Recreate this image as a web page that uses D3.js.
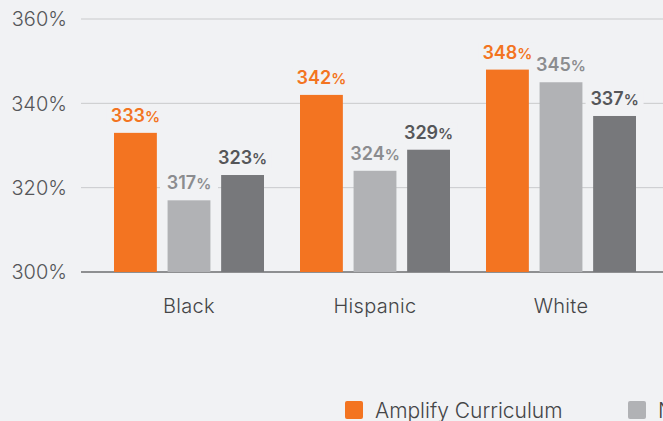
<!DOCTYPE html>
<html>
<head>
<meta charset="utf-8">
<script src="https://cdn.jsdelivr.net/npm/d3@7"></script>
<style>
    html, body { margin: 0; padding: 0; background: #f1f2f4; overflow: hidden; }
    svg { display: block; }
</style>
</head>
<body>
<svg id="chart"></svg>
<script>
'use strict';

const categories = ['Black', 'Hispanic', 'White'];
const seriesNames = ['Amplify Curriculum', 'National Comparison', 'State Comparison'];
const amplifyValues = [333, 342, 348];
const secondValues = [317, 324, 345];
const thirdValues = [323, 329, 337];
const yTicks = [300, 320, 340, 360];

(function () {
    const d3 = window.d3;
    const width = 663;
    const height = 421;
    const bg = '#f1f2f4';
    const colors = ['#f37421', '#b1b2b5', '#77787b'];
    const labelColors = ['#f37421', '#8b8c8f', '#555659'];
    const font = 'Inter, "Open Sans", sans-serif';

    const series = [amplifyValues, secondValues, thirdValues];
    const data = categories.map((c, i) => ({
        cat: c,
        vals: series.map((s, j) => ({ key: seriesNames[j], idx: j, val: s[i] }))
    }));

    const svg = d3.select('#chart')
        .attr('width', width)
        .attr('height', height);

    const x0 = d3.scaleBand()
        .domain(categories)
        .range([96, 654])
        .padding(0);

    const x1 = d3.scaleBand()
        .domain(seriesNames)
        .range([18, 168])
        .paddingInner(0.2)
        .paddingOuter(0);

    const y = d3.scaleLinear()
        .domain([300, 360])
        .range([272, 19]);

    // grid + tick labels
    const grid = svg.append('g');
    grid.selectAll('line')
        .data(yTicks)
        .enter().append('line')
        .attr('x1', 81)
        .attr('x2', width)
        .attr('y1', d => y(d))
        .attr('y2', d => y(d))
        .attr('stroke', d => d === 300 ? '#6d6e71' : '#c9cacc')
        .attr('stroke-width', d => d === 300 ? 1.5 : 1);
    grid.selectAll('text')
        .data(yTicks)
        .enter().append('text')
        .attr('x', 67)
        .attr('y', d => y(d))
        .attr('dy', '0.36em')
        .attr('text-anchor', 'end')
        .attr('font-family', font)
        .attr('font-size', '20px')
        .attr('font-weight', 300)
        .attr('fill', '#555659')
        .text(d => d + '%');

    const groups = svg.selectAll('.group')
        .data(data)
        .enter().append('g')
        .attr('class', 'group')
        .attr('transform', d => 'translate(' + x0(d.cat) + ',0)');

    groups.selectAll('rect.bar')
        .data(d => d.vals)
        .enter().append('rect')
        .attr('class', 'bar')
        .attr('x', d => x1(d.key))
        .attr('width', x1.bandwidth())
        .attr('y', d => y(d.val))
        .attr('height', d => y(300) - y(d.val))
        .attr('fill', d => colors[d.idx]);

    // value labels with background to break the grid
    const labels = groups.selectAll('g.lab')
        .data(d => d.vals)
        .enter().append('g')
        .attr('class', 'lab')
        .attr('transform', d => 'translate(' + (x1(d.key) + x1.bandwidth() / 2) + ',' + (y(d.val) - 11) + ')');
    labels.append('rect')
        .attr('x', -29)
        .attr('y', -16)
        .attr('width', 58)
        .attr('height', 20)
        .attr('fill', bg);
    const t = labels.append('text')
        .attr('text-anchor', 'middle')
        .attr('font-family', font)
        .attr('font-weight', 600)
        .attr('fill', d => labelColors[d.idx]);
    t.append('tspan')
        .attr('font-size', '18px')
        .text(d => d.val);
    t.append('tspan')
        .attr('font-size', '15px')
        .text('%');

    // category axis labels
    svg.append('g').selectAll('text')
        .data(categories)
        .enter().append('text')
        .attr('x', d => x0(d) + x0.bandwidth() / 2)
        .attr('y', 313)
        .attr('text-anchor', 'middle')
        .attr('font-family', font)
        .attr('font-size', '20px')
        .attr('font-weight', 300)
        .attr('letter-spacing', '0.3px')
        .attr('fill', '#444547')
        .text(d => d);

    // legend
    const legendX = [345, 628];
    const legend = svg.append('g').selectAll('g')
        .data(seriesNames.slice(0, 2))
        .enter().append('g')
        .attr('transform', (d, i) => 'translate(' + legendX[i] + ',401)');
    legend.append('rect')
        .attr('width', 18)
        .attr('height', 18)
        .attr('rx', 2)
        .attr('fill', (d, i) => colors[i]);
    legend.append('text')
        .attr('x', 30)
        .attr('y', 9)
        .attr('dy', '0.36em')
        .attr('font-family', font)
        .attr('font-size', '21px')
        .attr('font-weight', 300)
        .attr('fill', '#444547')
        .text(d => d);
}());
</script>
</body>
</html>
